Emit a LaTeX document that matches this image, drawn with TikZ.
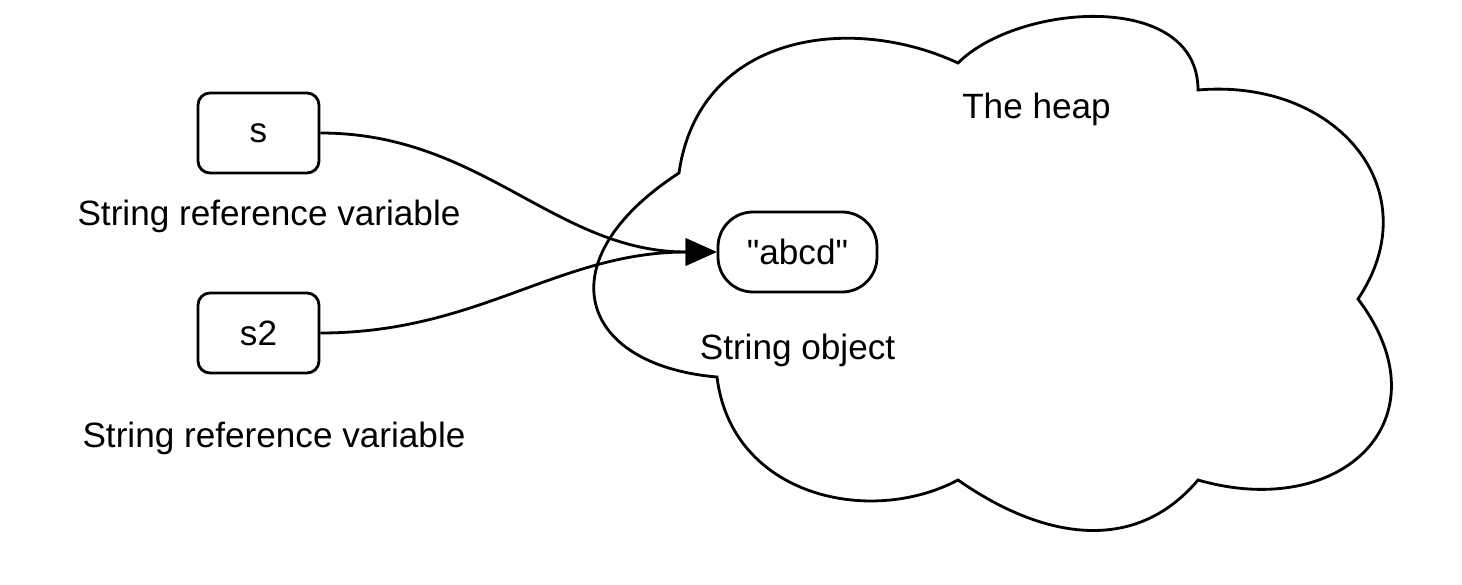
\documentclass[tikz,border=0pt]{standalone}
\usepackage{fontspec}
\setmainfont{Liberation Sans}[Ligatures=TeXOff]
\usepackage{tikz}
\usetikzlibrary{arrows.meta,shapes,positioning,calc}
\tikzstyle{arrow} = [line width=1.6pt,-{Triangle[length=0.62cm,width=0.54cm]}]
\tikzstyle{refvar} = [rectangle, rounded corners=0.24cm, minimum width=2.42cm, minimum height=1.6cm, text centered, draw, line width=1.6pt]
\tikzstyle{strobj} = [rectangle, rounded corners=0.7cm, minimum width=3.18cm, minimum height=1.6cm, text centered, draw, line width=1.6pt]
\tikzstyle{caption} = [inner sep=0pt, align=center]
\tikzstyle{heapline} = [line width=1.6pt, line join=miter]

\begin{document}
\begin{tikzpicture}[font=\fontsize{20}{24}\selectfont]
    \useasboundingbox (0,0) rectangle (29.24,11.68);

    % The heap
    \draw[heapline] (13.58,8.22)
        .. controls (13.97,10.99) and (16.99,11.43) .. (19.16,10.42)
        .. controls (20.36,11.62) and (23.96,11.88) .. (23.96,9.88)
        .. controls (26.75,10.12) and (28.61,7.86) .. (27.16,5.70)
        .. controls (28.97,3.30) and (26.84,1.25) .. (23.96,2.08)
        .. controls (22.67,0.55) and (20.80,0.93) .. (19.16,2.08)
        .. controls (17.39,1.14) and (14.63,1.76) .. (14.34,4.14)
        .. controls (11.55,4.38) and (10.90,6.48) .. (13.58,8.22) -- cycle;
    \node[caption, anchor=base] (heap) at (20.73,9.32) {The heap};

    % Nodes
    \node[refvar] (s) at (5.17,9.02) {s};
    \node[refvar] (s2) at (5.17,5.02) {s2};
    \node[strobj] (abcd) at (15.95,6.64) {"abcd"};

    % Arrows
    \draw[arrow] (s.east) to[out=0, in=180] (abcd.west);
    \draw[arrow] (s2.east) to[out=0, in=180] (abcd.west);

    % Labels below
    \node[caption, below=0.5cm of s, xshift=0.21cm] (slabel) {String reference variable};
    \node[caption, below=0.94cm of s2, xshift=0.31cm] (s2label) {String reference variable};
    \node[caption, below=0.8cm of abcd] (abcdlabel) {String object};
\end{tikzpicture}
\end{document}
